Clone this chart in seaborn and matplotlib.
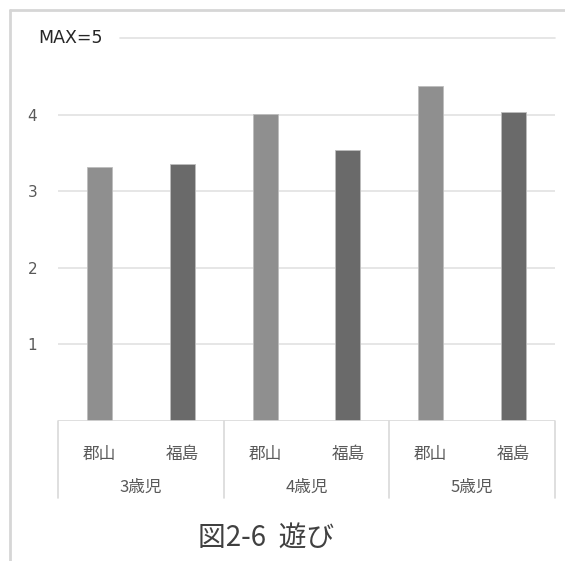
import matplotlib
matplotlib.use("Agg")
import matplotlib.pyplot as plt
import seaborn as sns
import pandas as pd
from matplotlib.lines import Line2D

# Data
ages = ["3歳児", "4歳児", "5歳児"]
cities = ["郡山", "福島"]
koriyama = [3.32, 4.01, 4.37]
fukushima = [3.36, 3.54, 4.03]
y_ticks = [1, 2, 3, 4]
title = "図2-6  遊び"
max_label = "MAX=5"

sns.set_theme(style="white")
plt.rcParams["font.family"] = ["Noto Sans CJK JP", "DejaVu Sans"]

rows = []
for i, age in enumerate(ages):
    rows.append({"slot": f"{age}-{cities[0]}", "city": cities[0], "value": koriyama[i], "age": age})
    rows.append({"slot": f"{age}-{cities[1]}", "city": cities[1], "value": fukushima[i], "age": age})
df = pd.DataFrame(rows)

W, H = 565, 561
fig = plt.figure(figsize=(W / 100, H / 100), dpi=100)
ax = fig.add_axes([58 / W, 1 - 421 / H, 497 / W, (421 - 38) / H])

palette = {cities[0]: "#8f8f8f", cities[1]: "#6a6a6a"}
sns.barplot(data=df, x="slot", y="value", hue="city", palette=palette,
            dodge=False, width=0.3, ax=ax, legend=False,
            edgecolor="#bdbdbd", linewidth=0.6, zorder=3)

ax.set_xlim(-0.5, len(df) - 0.5)
ax.set_ylim(0, 5)
ax.set_xlabel("")
ax.set_ylabel("")
for s in ax.spines.values():
    s.set_visible(False)

# Horizontal gridlines
ax.set_yticks(y_ticks)
ax.set_yticklabels([str(t) for t in y_ticks], color="#595959", fontsize=11,
                   family=["DejaVu Sans"])
ax.tick_params(axis="y", length=0, pad=15)
for t in y_ticks:
    ax.axhline(t, color="#e2e2e2", lw=1.2, zorder=1)
# top line at 5 starts to the right of the MAX label
ax.plot([0.1255, 1.0], [5, 5], transform=ax.get_yaxis_transform(),
        color="#e2e2e2", lw=1.2, zorder=1, clip_on=False)
ax.axhline(0, color="#d9d9d9", lw=1.2, zorder=4)

# City labels on each bar slot
ax.set_xticks(range(len(df)))
ax.set_xticklabels(df["city"], color="#595959", fontsize=12)
ax.tick_params(axis="x", length=0, pad=18)

# Age group labels and separators
trans = ax.get_xaxis_transform()
px = 1 / (421 - 38)
for i, age in enumerate(ages):
    ax.text(2 * i + 0.5, -66 * px, age, transform=trans, ha="center", va="center",
            fontsize=12, color="#595959")
for xb in [-0.5, 1.5, 3.5, 5.5]:
    ax.plot([xb, xb], [0, -77 * px], transform=trans, color="#d9d9d9",
            lw=1.2, clip_on=False)

ax.text(-20 / 497, 5, max_label, transform=ax.get_yaxis_transform(), ha="left", va="center",
        fontsize=12.5, color="#262626", family=["DejaVu Sans"])

# Chart frame
fig.add_artist(Line2D([10 / W, 1.0], [1 - 10 / H, 1 - 10 / H], color="#d6d6d6", lw=2))
fig.add_artist(Line2D([10 / W, 10 / W], [0, 1 - 10 / H], color="#d6d6d6", lw=2))

fig.text(266 / W, 1 - 539 / H, title, ha="center", va="center", fontsize=20, color="#404040")

fig.savefig("out.png", dpi=100, facecolor="white")
